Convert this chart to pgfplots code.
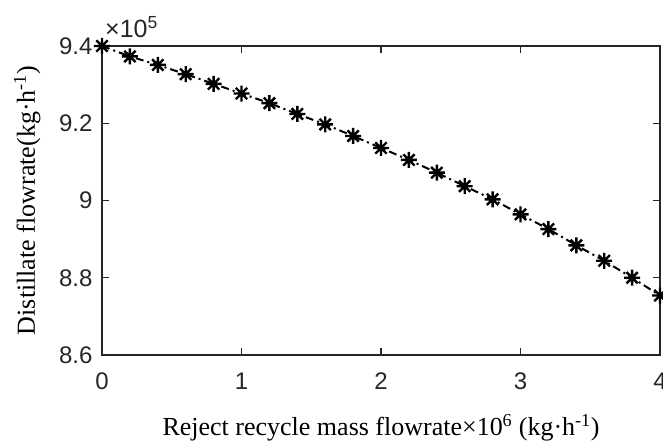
\documentclass[border=0pt]{standalone}
\usepackage{fontspec}
\setmainfont{Liberation Serif}
\newfontfamily\arial{Liberation Sans}
\usepackage{pgfplots}
\pgfplotsset{compat=1.18}
\definecolor{axgray}{gray}{0.15}
\pgfdeclareplotmark{mstar}{%
  \pgfpathmoveto{\pgfqpoint{-\pgfplotmarksize}{0pt}}\pgfpathlineto{\pgfqpoint{\pgfplotmarksize}{0pt}}%
  \pgfpathmoveto{\pgfqpoint{0pt}{-\pgfplotmarksize}}\pgfpathlineto{\pgfqpoint{0pt}{\pgfplotmarksize}}%
  \pgfpathmoveto{\pgfqpoint{-0.707\pgfplotmarksize}{-0.707\pgfplotmarksize}}\pgfpathlineto{\pgfqpoint{0.707\pgfplotmarksize}{0.707\pgfplotmarksize}}%
  \pgfpathmoveto{\pgfqpoint{-0.707\pgfplotmarksize}{0.707\pgfplotmarksize}}\pgfpathlineto{\pgfqpoint{0.707\pgfplotmarksize}{-0.707\pgfplotmarksize}}%
  \pgfusepathqstroke}
\begin{document}
\begin{tikzpicture}
\begin{axis}[
  scale only axis, width=558pt, height=309pt,
  at={(0,0)}, anchor=south west,
  xmin=0, xmax=4, ymin=8.6, ymax=9.4,
  xtick={0,1,2,3,4}, ytick={8.6,8.8,9,9.2,9.4},
  xticklabels={0,1,2,3,4}, yticklabels={8.6,8.8,9,9.2,9.4},
  tick align=inside, major tick length=7pt,
  axis line style={axgray, line width=1.1pt},
  every tick/.style={axgray, line width=1.1pt},
  tick label style={font=\arial\fontsize{24}{28}\selectfont, text=axgray},
  xticklabel style={anchor=north, yshift=-14pt},
  yticklabel style={anchor=east, xshift=-6pt},
  label style={font=\fontsize{26}{30}\selectfont, text=black},
  xlabel={Reject recycle mass flowrate×10\textsuperscript{6} (kg·h\textsuperscript{-1})},
  ylabel={Distillate flowrate(kg·h\textsuperscript{-1})},
  xlabel style={at={(axis description cs:0.5,-0.236)}, anchor=center},
  ylabel style={at={(axis description cs:-0.134,0.5)}, anchor=center},
  clip=false,
]
\addplot[black, line width=2pt, dash pattern=on 8pt off 4pt on 2pt off 4pt,
  mark=mstar, mark size=8pt, mark options={solid, line width=2.4pt}]
  coordinates {
  (0,9.400) (0.2,9.373) (0.4,9.351) (0.6,9.327) (0.8,9.302)
  (1.0,9.277) (1.2,9.252) (1.4,9.224) (1.6,9.197) (1.8,9.167)
  (2.0,9.136) (2.2,9.105) (2.4,9.072) (2.6,9.037) (2.8,9.003)
  (3.0,8.964) (3.2,8.926) (3.4,8.884) (3.6,8.844) (3.8,8.800) (4.0,8.754)
  };
\node[anchor=south west, inner sep=0pt, xshift=3pt, yshift=8pt, font=\arial\fontsize{25}{28}\selectfont, text=axgray]
  at (rel axis cs:0,1) {×10\textsuperscript{5}};
\end{axis}
\pgfresetboundingbox
\path[use as bounding box] (-102pt,-91pt) rectangle (561pt,355pt);
\end{tikzpicture}
\end{document}
